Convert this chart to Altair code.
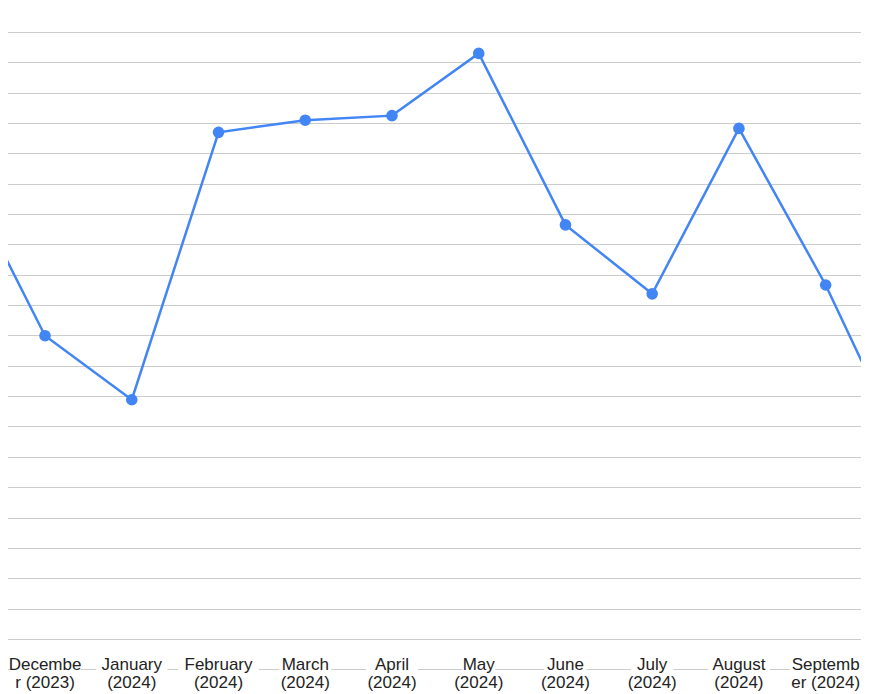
import pandas as pd
import altair as alt

# months on the axis (first and last sit just outside the visible area)
months = ["November (2023)", "December (2023)", "January (2024)", "February (2024)",
          "March (2024)", "April (2024)", "May (2024)", "June (2024)", "July (2024)",
          "August (2024)", "September (2024)", "October (2024)"]
label_top = ["Novembe", "Decembe", "January", "February", "March", "April",
             "May", "June", "July", "August", "Septemb", "October"]
label_bottom = ["r (2023)", "r (2023)", "(2024)", "(2024)", "(2024)", "(2024)",
                "(2024)", "(2024)", "(2024)", "(2024)", "er (2024)", "(2024)"]
values = [166.3, 109.9, 88.8, 176.9, 180.9, 182.4, 202.9, 146.4, 123.7, 178.2, 126.6, 66.1]
grid_values = [0, 10, 20, 30, 40, 50, 60, 70, 80, 90, 100, 110,
               120, 130, 140, 150, 160, 170, 180, 190, 200, 210, 220]

df = pd.DataFrame({"month": months, "value": values})
df["idx"] = range(len(df))
df["label"] = [a + "\n" + b for a, b in zip(label_top, label_bottom)]

# white boxes behind the first label line (labels sit over the bottom gridline)
step = (904.4 + 49.7) / 11
half = [(len(t) * 9.6 + 4) / 2 / step for t in label_top]
df["x0"] = df["idx"] - half
df["x1"] = df["idx"] + half

# page has an 8px margin, so plot coords = page coords - 8
xs = alt.Scale(domain=[0, 11], range=[-49.7, 904.4], zero=False, nice=False)
ys = alt.Scale(domain=[0, 220], range=[661.3, -6.5], zero=False, nice=False)
yaxis = alt.Axis(values=grid_values, labels=False, ticks=False, domain=False,
                 title=None, gridColor="#cccccc", gridWidth=1)

base = alt.Chart(df)
visible = base.transform_filter("datum.idx >= 1 && datum.idx <= 10")

cover = visible.mark_rect(color="white").encode(
    x=alt.X("x0:Q", scale=xs, axis=None),
    x2="x1:Q",
    y=alt.value(653),
    y2=alt.value(668),
)

line = base.mark_line(color="#4285F4", strokeWidth=2.5).encode(
    x=alt.X("idx:Q", scale=xs, axis=None),
    y=alt.Y("value:Q", scale=ys, axis=yaxis),
)

points = base.mark_circle(color="#4285F4", size=135, opacity=1).encode(
    x=alt.X("idx:Q", scale=xs, axis=None),
    y=alt.Y("value:Q", scale=ys, axis=yaxis),
)

labels = visible.mark_text(font="Liberation Sans", fontSize=17, color="#222222",
                           lineBreak="\n", lineHeight=17.7, baseline="alphabetic").encode(
    x=alt.X("idx:Q", scale=xs, axis=None),
    y=alt.value(662),
    text="label:N",
)

chart = alt.layer(cover, line, points, labels).properties(
    width=853,
    height=686,
    autosize="none",
    padding=0,
    background="white",
).configure_view(strokeWidth=0)

chart.save("out.html", embed_options={"renderer": "svg", "actions": False})
